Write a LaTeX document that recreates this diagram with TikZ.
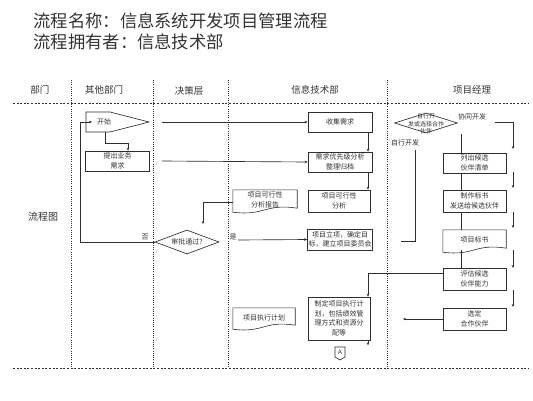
\documentclass[tikz,border=0pt]{standalone}
\usepackage{fontspec}
\newfontfamily\cjk{Noto Sans CJK SC}
\usetikzlibrary{arrows.meta,shapes.geometric,calc}
\definecolor{lc}{HTML}{2E2E2E}
\definecolor{txt}{HTML}{333333}
\newcommand\docpath[1]{%
  \draw[draw=lc, line width=0.6pt, fill=white]
    (#1.north west) -- (#1.north east) -- ($(#1.south east)+(0,-2)$)
    .. controls ($(#1.south)+(0,-7)$) and ($(#1.south)+(0,6)$) .. ($(#1.south west)+(0,2)$) -- cycle;}
\begin{document}
\begin{tikzpicture}[x=1pt,y=-1pt,
  every node/.style={font=\cjk, text=txt},
  ln/.style={draw=lc, line width=0.65pt},
  arr/.style={ln, -{Stealth[length=3pt,width=2.6pt]}},
  box/.style={draw=lc, line width=0.65pt, fill=white, rectangle, minimum width=64, minimum height=20,
    inner sep=1pt, font=\cjk\fontsize{7}{9.5}\selectfont, align=center},
  docbox/.style={rectangle, minimum width=64, minimum height=20, inner sep=1pt,
    font=\cjk\fontsize{7}{9.5}\selectfont, align=center},
  dia/.style={diamond, draw=lc, line width=0.65pt, fill=white, inner sep=0pt, aspect=2.7},
  small/.style={font=\cjk\fontsize{7}{9}\selectfont},
  head/.style={font=\cjk\fontsize{9.5}{11}\selectfont},
  title/.style={font=\cjk\fontsize{17.3}{20}\selectfont, anchor=west},
  vsep/.style={draw=lc, line width=1pt, dash pattern=on 1pt off 1.2pt},
  hsep/.style={draw=lc, line width=0.7pt, dash pattern=on 2pt off 1.6pt}
]
\useasboundingbox (0,0) rectangle (533,400);

% titles
\node[title] (t1) at (30,21) {流程名称：信息系统开发项目管理流程};
\node[title] (t2) at (30,42) {流程拥有者：信息技术部};

% swimlane separators
\draw[hsep] (13,103) -- (528,103);
\draw[hsep] (13,368) -- (528,368);
\foreach \x in {71,153,228,387} \draw[vsep] (\x,80) -- (\x,368);

% headers
\node[head] (h1) at (40,90) {部门};
\node[head] (h2) at (104,90) {其他部门};
\node[head] (h3) at (189,91) {决策层};
\node[head] (h4) at (315,90) {信息技术部};
\node[head] (h5) at (472,90) {项目经理};
\node[font=\cjk\fontsize{10}{12}\selectfont] (lab) at (43,217) {流程图};

% other department
\draw[ln, fill=white] (86,112) -- (110,112) -- (149,122) -- (110,132) -- (86,132) -- cycle;
\node[small] (start) at (104,122) {开始};
\coordinate (startb) at (105,132);
\coordinate (starttip) at (149,122);
\coordinate (startin) at (92,122);
\node[box] (need) at (117.5,161) {提出业务\\需求};

% IT department
\node[box] (collect) at (340,122) {收集需求};
\node[box] (prio) at (340,162) {需求优先级分析\\整理归档};
\node[box, minimum width=62, minimum height=22] (feas) at (339,201) {项目可行性\\分析};
\node[box, minimum height=21] (proj) at (340,239.5) {项目立项，确定目\\标，建立项目委员会};
\node[box, minimum width=62, minimum height=43] (plan) at (339,318.5) {制定项目执行计\\划，包括绩效管\\理方式和资源分\\配等};
\draw[ln, fill=white] (335,347) -- (345,347) -- (345,357) -- (340,360) -- (335,357) -- cycle;
\node[font=\sffamily\fontsize{6.5}{7}\selectfont, inner sep=0pt] (conA) at (340,352.5) {A};

% documents
\node[docbox] (rep) at (265,200) {};
\docpath{rep}
\node[docbox] at (rep) {项目可行性\\分析报告};
\node[docbox, minimum width=62, minimum height=19] (exec) at (264,317.5) {};
\docpath{exec}
\node[docbox] at (exec) {项目执行计划};

% decision
\node[dia, minimum width=64, minimum height=24] (appr) at (187,242) {};
\node[small] at (appr) {审批通过?};
\node[small] (no) at (145,237) {否};
\node[small] (yes) at (233,237) {是};

% project manager
\node[dia, minimum width=63, minimum height=20] (pmdec) at (426,123) {};
\node[font=\cjk\fontsize{6}{7.5}\selectfont, align=center] (pmdect) at (426,124) {自行开\\发或选择合作\\伙伴};
\node[small] (coop) at (472,117) {协同开发};
\node[small] (self) at (405,143) {自行开发};
\node[box, minimum width=63] (list) at (474.5,163) {列出候选\\伙伴清单};
\node[box, minimum width=63, minimum height=22] (bid) at (474.5,201) {制作标书\\发送给候选伙伴};
\node[docbox, minimum width=63] (tender) at (474.5,240) {};
\docpath{tender}
\node[docbox] at (tender) {项目标书};
\node[box, minimum width=63, minimum height=22] (eval) at (474.5,279) {评估候选\\伙伴能力};
\node[box, minimum width=63, minimum height=22] (select) at (474.5,319) {选定\\合作伙伴};

% connectors
\coordinate (s1) at (162,122);
\coordinate (s2) at (162,161);
\draw[arr] (startb) -- ++(0,11) -| ([xshift=10.5pt]need.north);
\draw[arr] (s1) -- (collect.west);
\draw[arr] (s2) -- (prio.west);
\draw[arr] ([xshift=28pt]collect.south) -- ([xshift=28pt]prio.north);
\draw[arr] ([xshift=28pt]prio.south) -- ([xshift=29pt]feas.north);
\coordinate (a1) at (203,224);
\draw[arr] ([yshift=-2pt]rep.west) -| (a1);
\draw[arr] (appr.west) -- (80,242) -- (80,122) -- (startin);
\coordinate (yesst) at (238,240);
\draw[arr] (yesst) -- (proj.west);
\draw[arr] ([yshift=6pt]eval.west) -| ([xshift=29pt]plan.north);
\draw[arr] ([xshift=29pt]plan.south) -- ++(0,5);
\coordinate (selend) at (403,319);
\draw[arr] (select.west) -- (selend);

% project manager connectors
\coordinate (c0) at (495,122);
\draw[arr] (c0) -- (513,122) -- (513,149);
\draw[arr] (513,172) -- (513,188);
\draw[arr] (513,212) -- (513,228);
\draw[arr] (513,250) -- (513,268);
\draw[arr] (513,290) -- (513,307);
\draw[ln] (461,134) -- ([xshift=-13.5pt]list.north);
\draw[ln] ([xshift=-13.5pt]list.south) -- ([xshift=-13.5pt]bid.north);
\draw[ln] ([xshift=-13.5pt]bid.south) -- ([xshift=-13.5pt]tender.north);
\draw[ln] ([xshift=-13.5pt]tender.south) -- ([xshift=-13.5pt]eval.north);
\coordinate (selfst) at (415,150);
\draw[ln] (selfst) -- (415,241) -- (401,241);
\end{tikzpicture}
\end{document}
